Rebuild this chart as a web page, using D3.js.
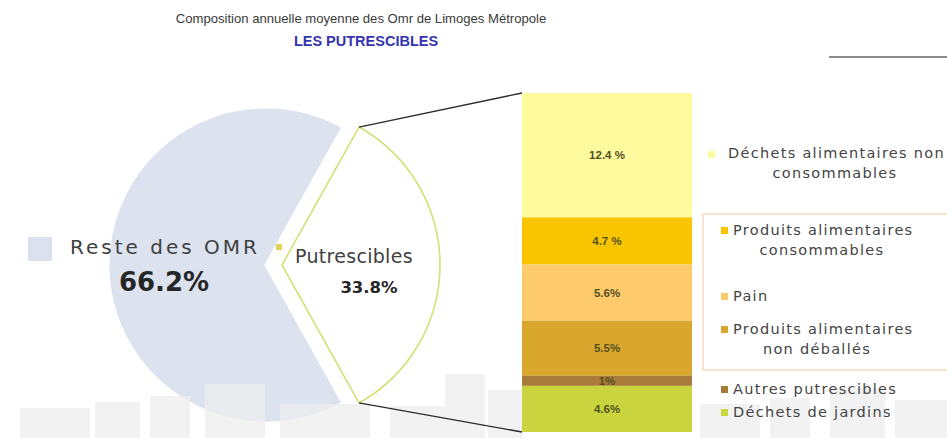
<!DOCTYPE html>
<html><head><meta charset="utf-8">
<script src="https://cdn.jsdelivr.net/npm/d3@7"></script>
<style>
html,body{margin:0;padding:0;background:#fff;}
svg{display:block;}
</style></head>
<body>
<svg id="chart" width="947" height="438"></svg>
<script>
// ---- data ----
const pieLabels = ["Putrescibles", "Reste des OMR"];
const pieValues = [33.8, 66.2];
const pieValueLabels = ["33.8%", "66.2%"];

const barCategories = [
  "Déchets alimentaires non consommables",
  "Produits alimentaires consommables",
  "Pain",
  "Produits alimentaires non déballés",
  "Autres putrescibles",
  "Déchets de jardins"
];
const barValues = [12.4, 4.7, 5.6, 5.5, 1, 4.6];
const barValueLabels = ["12.4 %", "4.7 %", "5.6%", "5.5%", "1%", "4.6%"];
const legendLines = [
  ["Déchets alimentaires non", "consommables"],
  ["Produits alimentaires", "consommables"],
  ["Pain"],
  ["Produits alimentaires", "non déballés"],
  ["Autres putrescibles"],
  ["Déchets de jardins"]
];
const barColors = ["#fdfb9e", "#f8c500", "#fdca6c", "#d9a62e", "#a97b3a", "#c9d43e"];

const titleText = "Composition annuelle moyenne des Omr de Limoges Métropole";
const subtitleText = "LES PUTRESCIBLES";

// ---- drawing ----
const svg = d3.select("#chart");
const FONT = "'DejaVu Sans', sans-serif";

svg.append("text").attr("x", 361).attr("y", 23).attr("text-anchor", "middle")
  .style("font-family", "'Liberation Sans', Arial, sans-serif").style("font-size", "13.1px")
  .attr("fill", "#3a3a3a").text(titleText);
svg.append("text").attr("x", 366).attr("y", 46).attr("text-anchor", "middle")
  .style("font-family", "'Liberation Sans', Arial, sans-serif").style("font-size", "14.5px")
  .style("font-weight", "bold").attr("fill", "#3434b0").text(subtitleText);

svg.append("line").attr("x1", 829).attr("x2", 947).attr("y1", 57).attr("y2", 57)
  .attr("stroke", "#8a8a8a").attr("stroke-width", 2);

// pie
const R = 158;
const span = 2 * Math.PI * pieValues[0] / d3.sum(pieValues);
const start = Math.PI / 2 - span / 2;
const pie = d3.pie().sort(null).startAngle(start).endAngle(start + 2 * Math.PI);
const arcs = pie(pieValues);
const arc = d3.arc().innerRadius(0).outerRadius(R);
const centers = [[282, 265], [266, 265]];

// Reste
svg.append("path").attr("transform", `translate(${centers[1]})`)
  .attr("d", arc(arcs[1])).attr("fill", "#dce3ef")
  .attr("stroke", "#ffffff").attr("stroke-width", 3).attr("stroke-linejoin", "round");

// faint background skyline (decoration, photo watermark)
const bg = svg.append("g").attr("fill", "#eeeeee").attr("opacity", 0.75);
[[20,408,70,30],[95,402,45,36],[150,396,40,42],[205,384,60,54],[280,404,90,34],
 [390,406,60,32],[445,374,40,64],[488,390,34,48],[700,404,60,34],[770,398,40,40],
 [830,388,55,50],[895,400,52,38]].forEach(b =>
  bg.append("rect").attr("x", b[0]).attr("y", b[1]).attr("width", b[2]).attr("height", b[3]));

// Putrescibles (exploded, outlined)
svg.append("path").attr("transform", `translate(${centers[0]})`)
  .attr("d", arc(arcs[0])).attr("fill", "#ffffff")
  .attr("stroke", "#d6df78").attr("stroke-width", 1.6).attr("stroke-linejoin", "round");

// bar
const barX0 = 522, barX1 = 692;
const total = d3.sum(barValues);
const y = d3.scaleLinear().domain([0, total]).range([93, 432]);
const cum = [];
barValues.reduce((a, v, i) => { cum[i] = a; return a + v; }, 0);

// connector lines
const pt = (c, a) => [c[0] + R * Math.sin(a), c[1] - R * Math.cos(a)];
const pTop = pt(centers[0], arcs[0].startAngle);
const pBot = pt(centers[0], arcs[0].endAngle);
svg.append("line").attr("x1", pTop[0]).attr("y1", pTop[1]).attr("x2", barX0).attr("y2", y(0))
  .attr("stroke", "#2a2a2a").attr("stroke-width", 1.3);
svg.append("line").attr("x1", pBot[0]).attr("y1", pBot[1]).attr("x2", barX0).attr("y2", y(total))
  .attr("stroke", "#2a2a2a").attr("stroke-width", 1.3);

const segs = svg.append("g");
segs.selectAll("rect").data(barValues).join("rect")
  .attr("x", barX0).attr("width", barX1 - barX0)
  .attr("y", (d, i) => y(cum[i])).attr("height", (d, i) => y(cum[i] + d) - y(cum[i]))
  .attr("fill", (d, i) => barColors[i]);
segs.selectAll("text").data(barValues).join("text")
  .attr("x", (barX0 + barX1) / 2)
  .attr("y", (d, i) => (y(cum[i]) + y(cum[i] + d)) / 2 + 4)
  .attr("text-anchor", "middle")
  .style("font-family", "'Liberation Sans', Arial, sans-serif").style("font-size", "11.5px")
  .style("font-weight", "bold")
  .attr("fill", "#55501f").text((d, i) => barValueLabels[i]);

// pie labels
svg.append("rect").attr("x", 28).attr("y", 237).attr("width", 24).attr("height", 24).attr("fill", "#dce2ed");
svg.append("text").attr("x", 70).attr("y", 254).style("font-family", FONT).style("font-size", "20px")
  .style("letter-spacing", "3px").attr("fill", "#404040").text(pieLabels[1]);
svg.append("text").attr("x", 164).attr("y", 291).attr("text-anchor", "middle").style("font-family", FONT)
  .style("font-size", "26px").style("font-weight", "bold").attr("fill", "#262626").text(pieValueLabels[1]);

svg.append("rect").attr("x", 276).attr("y", 244).attr("width", 6).attr("height", 6).attr("fill", "#e2d25c");
svg.append("text").attr("x", 295).attr("y", 263).style("font-family", FONT).style("font-size", "19px")
  .style("letter-spacing", "0.3px").attr("fill", "#404040").text(pieLabels[0]);
svg.append("text").attr("x", 369).attr("y", 293).attr("text-anchor", "middle").style("font-family", FONT)
  .style("font-size", "16.5px").style("font-weight", "bold").attr("fill", "#262626").text(pieValueLabels[0]);

// legend
svg.append("rect").attr("x", 703).attr("y", 214).attr("width", 260).attr("height", 156)
  .attr("fill", "none").attr("stroke", "#efc9a2").attr("stroke-width", 1);

const legendPos = [
  {sx: 708, sy: 151, tx: 728, ty: 158, cx: 835},
  {sx: 721, sy: 227, tx: 733, ty: 235, cx: 822},
  {sx: 721, sy: 293, tx: 733, ty: 301, cx: 822},
  {sx: 721, sy: 326, tx: 733, ty: 334, cx: 817},
  {sx: 721, sy: 386, tx: 733, ty: 394, cx: 822},
  {sx: 721, sy: 409, tx: 733, ty: 417, cx: 822}
];
const lg = svg.append("g");
barCategories.forEach((c, i) => {
  const p = legendPos[i];
  lg.append("rect").attr("x", p.sx).attr("y", p.sy).attr("width", 7).attr("height", 7).attr("fill", barColors[i]);
  legendLines[i].forEach((line, j) => {
    lg.append("text")
      .attr("x", j === 0 ? p.tx : p.cx).attr("y", p.ty + j * 20)
      .attr("text-anchor", j === 0 ? "start" : "middle")
      .style("font-family", FONT).style("font-size", "14.5px").style("letter-spacing", "1.3px")
      .attr("fill", "#444").text(line);
  });
});
</script>
</body></html>
